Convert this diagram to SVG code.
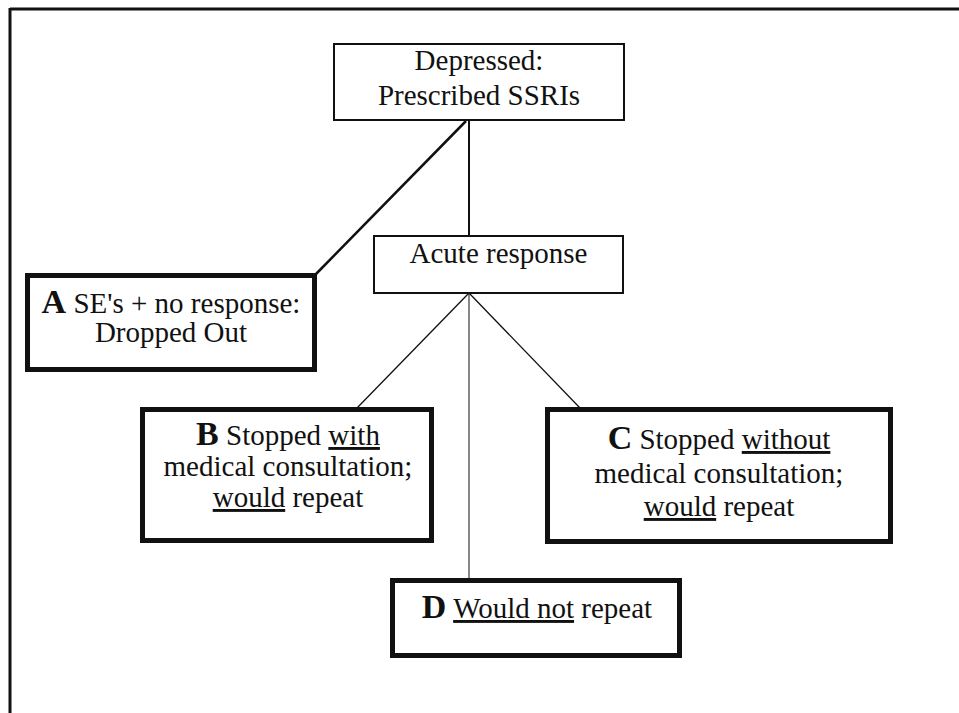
<svg xmlns="http://www.w3.org/2000/svg" width="959" height="713" viewBox="0 0 959 713">
<style>
text{font-family:"Liberation Serif","Times New Roman",serif;font-size:29px;fill:#111;text-anchor:middle}
.big{font-weight:bold;font-size:34px}
.thin{fill:#fff;stroke:#111;stroke-width:2}
.thick{fill:#fff;stroke:#111;stroke-width:5}
.u{text-decoration:underline}
#connectors line{stroke:#111;fill:none}
</style>
<rect x="0" y="0" width="959" height="713" fill="#fff"/>
<g id="frame">
<line x1="10" y1="9" x2="959" y2="9" stroke="#111" stroke-width="3"/>
<line x1="10" y1="8" x2="10" y2="713" stroke="#111" stroke-width="3"/>
</g>
<g id="connectors">
<line x1="469" y1="120" x2="469" y2="236" stroke-width="2"/>
<line x1="466" y1="121" x2="316" y2="274" stroke-width="2.5"/>
<line x1="469" y1="293" x2="357" y2="408" stroke-width="1.3"/>
<line x1="469" y1="293" x2="580" y2="408" stroke-width="1.3"/>
<line x1="469" y1="293" x2="469" y2="580" stroke-width="1"/>
</g>
<g id="top">
<rect class="thin" x="334" y="44" width="290" height="76"/>
<text x="479" y="70">Depressed:</text>
<text x="479" y="105">Prescribed SSRIs</text>
</g>
<g id="acute">
<rect class="thin" x="374" y="236" width="249" height="57"/>
<text x="498.5" y="263">Acute response</text>
</g>
<g id="A">
<rect class="thick" x="27.5" y="275.5" width="287" height="94"/>
<text x="171" y="313"><tspan class="big">A</tspan> SE's + no response:</text>
<text x="171" y="342">Dropped Out</text>
</g>
<g id="B">
<rect class="thick" x="142.5" y="409.5" width="289" height="131"/>
<text x="288" y="445"><tspan class="big">B</tspan> Stopped <tspan class="u">with</tspan></text>
<text x="288" y="476">medical consultation;</text>
<text x="288" y="507"><tspan class="u">would</tspan> repeat</text>
</g>
<g id="C">
<rect class="thick" x="547.5" y="409.5" width="343" height="132"/>
<text x="719" y="449"><tspan class="big">C</tspan> Stopped <tspan class="u">without</tspan></text>
<text x="719" y="483">medical consultation;</text>
<text x="719" y="516"><tspan class="u">would</tspan> repeat</text>
</g>
<g id="D">
<rect class="thick" x="392.5" y="580.5" width="287" height="75"/>
<text x="537" y="618"><tspan class="big">D</tspan> <tspan class="u">Would not</tspan> repeat</text>
</g>
</svg>
